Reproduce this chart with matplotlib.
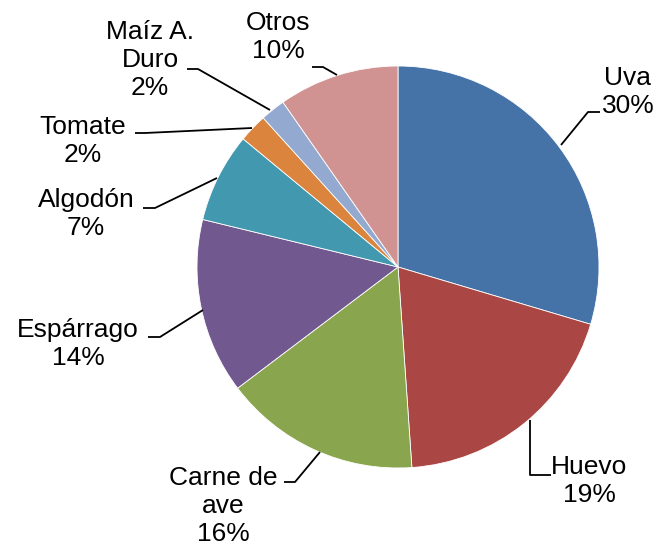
import matplotlib
matplotlib.use("Agg")
import matplotlib.pyplot as plt

categorias = ["Uva", "Huevo", "Carne de\nave", "Espárrago", "Algodón",
              "Tomate", "Maíz A.\nDuro", "Otros"]
valores = [29.6, 19.3, 15.8, 14.1, 7.2, 2.3, 2.0, 9.7]
colores = ["#4572A7", "#AA4643", "#89A54E", "#71588F", "#4198AF",
           "#DB843D", "#93A9CF", "#D19392"]

# label centres and leader lines, in pixels from top-left of the image
pos_etiquetas = [(628, 92), (589, 481), (223, 506), (78, 344),
                 (86, 214), (83, 141), (150, 60), (278, 37)]
lineas = [
    [(600, 112), (588, 112), (561, 145)],
    [(551, 475), (530, 475), (530, 420)],
    [(284, 482), (295, 482), (320, 452)],
    [(148, 337), (160, 337), (203, 310)],
    [(143, 208), (155, 208), (217, 178)],
    [(135, 133), (145, 133), (252, 128)],
    [(187, 69), (198, 69), (270, 110)],
    [(312, 67), (323, 67), (337, 75)],
]

W, H = 657, 546
plt.rcParams['font.family'] = ['Liberation Sans', 'DejaVu Sans']

fig = plt.figure(figsize=(W / 100, H / 100), dpi=100)
ax = fig.add_axes([0, 0, 1, 1])
ax.axis('off')

ax.pie(valores, colors=colores, startangle=90, counterclock=False,
       center=(398, H - 267), radius=201,
       wedgeprops=dict(edgecolor='white', linewidth=0.6))
ax.set_xlim(0, W)
ax.set_ylim(0, H)
ax.set_aspect('auto')

for cat, v, (x, y) in zip(categorias, valores, pos_etiquetas):
    ax.text(x, H - y, f"{cat}\n{round(v)}%", ha='center', va='center',
            fontsize=19, linespacing=1.19, color='black')

for pts in lineas:
    ax.plot([p[0] for p in pts], [H - p[1] for p in pts],
            color='black', linewidth=1.3, solid_capstyle='butt')

fig.savefig('out.png', dpi=100)
